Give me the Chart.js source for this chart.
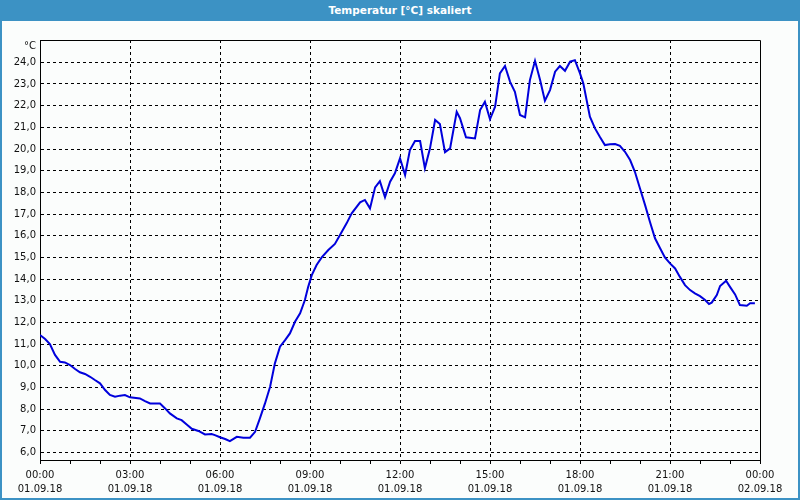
<!DOCTYPE html>
<html>
<head>
<meta charset="utf-8">
<script src="https://cdn.jsdelivr.net/npm/chart.js@4/dist/chart.umd.min.js"></script>
<style>
  body { margin: 0; background: #fff; }
  #frame { position: relative; width: 800px; height: 500px; background: #3c92c4; overflow: hidden; }
  #title { position: absolute; left: 0; top: 0; width: 800px; height: 21px;
           text-align: center; color: #fff; font: bold 10.5px "DejaVu Sans", sans-serif; line-height: 21px; }
  #inner { position: absolute; left: 2px; top: 21px; width: 796px; height: 477px; background: #fbfdfc; }
  canvas { display: block; }
</style>
</head>
<body>
<div id="frame">
  <div id="title">Temperatur [°C] skaliert</div>
  <div id="inner"><canvas id="tempChart" width="796" height="477"></canvas></div>
</div>
<script>
// Stunden seit 01.09.18 00:00 und Temperatur in °C
const hours = [
  0.00, 0.17, 0.33, 0.50, 0.67, 0.83, 1.00, 1.17, 1.33, 1.50, 1.67, 1.83, 2.00, 2.17, 2.33, 2.50,
  2.67, 2.83, 3.00, 3.33, 3.50, 3.67, 4.00, 4.17, 4.33, 4.56, 4.72, 4.89, 5.06, 5.28, 5.50, 5.72,
  5.83, 6.00, 6.17, 6.33, 6.56, 6.78, 7.00, 7.17, 7.33, 7.50, 7.67, 7.83, 8.00, 8.17, 8.33, 8.50,
  8.67, 8.83, 8.94, 9.06, 9.22, 9.39, 9.61, 9.83, 10.00, 10.22, 10.39, 10.67, 10.83, 11.00, 11.17, 11.33,
  11.50, 11.67, 11.83, 12.00, 12.17, 12.33, 12.50, 12.67, 12.83, 13.00, 13.17, 13.33, 13.50, 13.67, 13.89, 14.00,
  14.20, 14.50, 14.67, 14.83, 15.00, 15.17, 15.33, 15.50, 15.67, 15.83, 16.00, 16.17, 16.33, 16.50, 16.67, 16.83,
  17.00, 17.17, 17.33, 17.50, 17.67, 17.83, 18.00, 18.11, 18.22, 18.33, 18.50, 18.67, 18.83, 19.00, 19.17, 19.33,
  19.50, 19.67, 19.83, 20.00, 20.17, 20.33, 20.50, 20.67, 20.83, 21.00, 21.17, 21.33, 21.50, 21.67, 21.83, 22.00,
  22.17, 22.30, 22.39, 22.56, 22.67, 22.87, 23.00, 23.17, 23.33, 23.56, 23.67, 23.83
];
const temps = [
  11.42, 11.23, 11.00, 10.50, 10.18, 10.15, 10.03, 9.85, 9.70, 9.62, 9.49, 9.34, 9.19, 8.88, 8.65, 8.57,
  8.62, 8.65, 8.54, 8.49, 8.37, 8.26, 8.26, 8.03, 7.80, 7.57, 7.49, 7.29, 7.09, 6.99, 6.83, 6.85,
  6.80, 6.70, 6.62, 6.52, 6.72, 6.68, 6.68, 6.95, 7.57, 8.26, 9.03, 10.11, 10.88, 11.18, 11.49, 12.03,
  12.42, 13.03, 13.64, 14.18, 14.65, 15.00, 15.34, 15.62, 16.03, 16.57, 17.03, 17.54, 17.65, 17.26, 18.23, 18.52,
  17.77, 18.49, 18.88, 19.57, 18.80, 19.95, 20.37, 20.37, 19.11, 20.03, 21.34, 21.15, 19.85, 20.03, 21.72, 21.42,
  20.54, 20.49, 21.80, 22.18, 21.37, 21.95, 23.49, 23.83, 23.10, 22.64, 21.57, 21.46, 23.18, 24.07, 23.18, 22.23,
  22.72, 23.57, 23.83, 23.61, 24.03, 24.10, 23.49, 23.03, 22.26, 21.49, 20.95, 20.54, 20.18, 20.22, 20.23, 20.15,
  19.87, 19.49, 18.95, 18.18, 17.41, 16.64, 15.88, 15.42, 15.00, 14.72, 14.49, 14.10, 13.72, 13.49, 13.34, 13.21,
  13.03, 12.85, 12.91, 13.26, 13.68, 13.92, 13.64, 13.29, 12.80, 12.77, 12.88, 12.88
];

const yTicks = [6, 7, 8, 9, 10, 11, 12, 13, 14, 15, 16, 17, 18, 19, 20, 21, 22, 23, 24];
const xLabelHours = [0, 3, 6, 9, 12, 15, 18, 21, 24];
const xLabelTimes = ["00:00", "03:00", "06:00", "09:00", "12:00", "15:00", "18:00", "21:00", "00:00"];
const xLabelDates = ["01.09.18", "01.09.18", "01.09.18", "01.09.18", "01.09.18", "01.09.18", "01.09.18", "01.09.18", "02.09.18"];

const FONT = "'DejaVu Sans', sans-serif";

// Rahmen oben/rechts und Einheit
const boxPlugin = {
    id: 'box',
    afterDraw(chart) {
        const {ctx, chartArea: a} = chart;
        ctx.save();
        ctx.strokeStyle = '#000';
        ctx.lineWidth = 1;
        ctx.beginPath();
        ctx.moveTo(Math.round(a.left) + 0.5, Math.round(a.top) + 0.5);
        ctx.lineTo(Math.round(a.right) + 0.5, Math.round(a.top) + 0.5);
        ctx.lineTo(Math.round(a.right) + 0.5, Math.round(a.bottom) + 0.5);
        ctx.stroke();
        ctx.fillStyle = '#111';
        ctx.font = "10px " + FONT;
        ctx.textAlign = 'right';
        ctx.textBaseline = 'middle';
        ctx.fillText('°C', a.left - 4, a.top + 6);
        ctx.restore();
    }
};

const points = hours.map((h, i) => ({x: h, y: temps[i]}));

new Chart(document.getElementById('tempChart'), {
    type: 'line',
    data: {
        datasets: [{
            data: points,
            borderColor: '#0000dc',
            borderWidth: 2,
            pointRadius: 0,
            tension: 0,
            fill: false
        }]
    },
    options: {
        responsive: false,
        animation: false,
        devicePixelRatio: 1,
        layout: { padding: { top: 19, right: 38, left: 0, bottom: 0 } },
        plugins: {
            legend: { display: false },
            tooltip: { enabled: false }
        },
        scales: {
            x: {
                type: 'linear',
                min: 0,
                max: 24,
                afterFit: s => { s.height = 38; },
                ticks: {
                    stepSize: 1,
                    autoSkip: false,
                    maxRotation: 0,
                    padding: 4,
                    color: '#111',
                    font: { family: FONT, size: 10, lineHeight: 1.45 },
                    callback: v => {
                        const i = xLabelHours.indexOf(v);
                        return i < 0 ? '' : [xLabelTimes[i], xLabelDates[i]];
                    }
                },
                grid: {
                    color: c => (c.tick && c.tick.value % 3 === 0 && c.tick.value > 0 && c.tick.value < 24) ? '#000' : 'rgba(0,0,0,0)',
                    tickColor: '#000',
                    tickLength: 4,
                    lineWidth: 1
                },
                border: { color: '#000', width: 1, dash: [3, 3] }
            },
            y: {
                type: 'linear',
                min: 5.65,
                max: 25.03,
                afterBuildTicks: s => { s.ticks = yTicks.map(v => ({value: v})); },
                afterFit: s => { s.width = 38; },
                ticks: {
                    padding: 4,
                    color: '#111',
                    font: { family: FONT, size: 10 },
                    callback: v => v.toFixed(1).replace('.', ',')
                },
                grid: { color: '#000', lineWidth: 1, drawTicks: false },
                border: { color: '#000', width: 1, dash: [3, 3] }
            }
        }
    },
    plugins: [boxPlugin]
});
</script>
</body>
</html>
